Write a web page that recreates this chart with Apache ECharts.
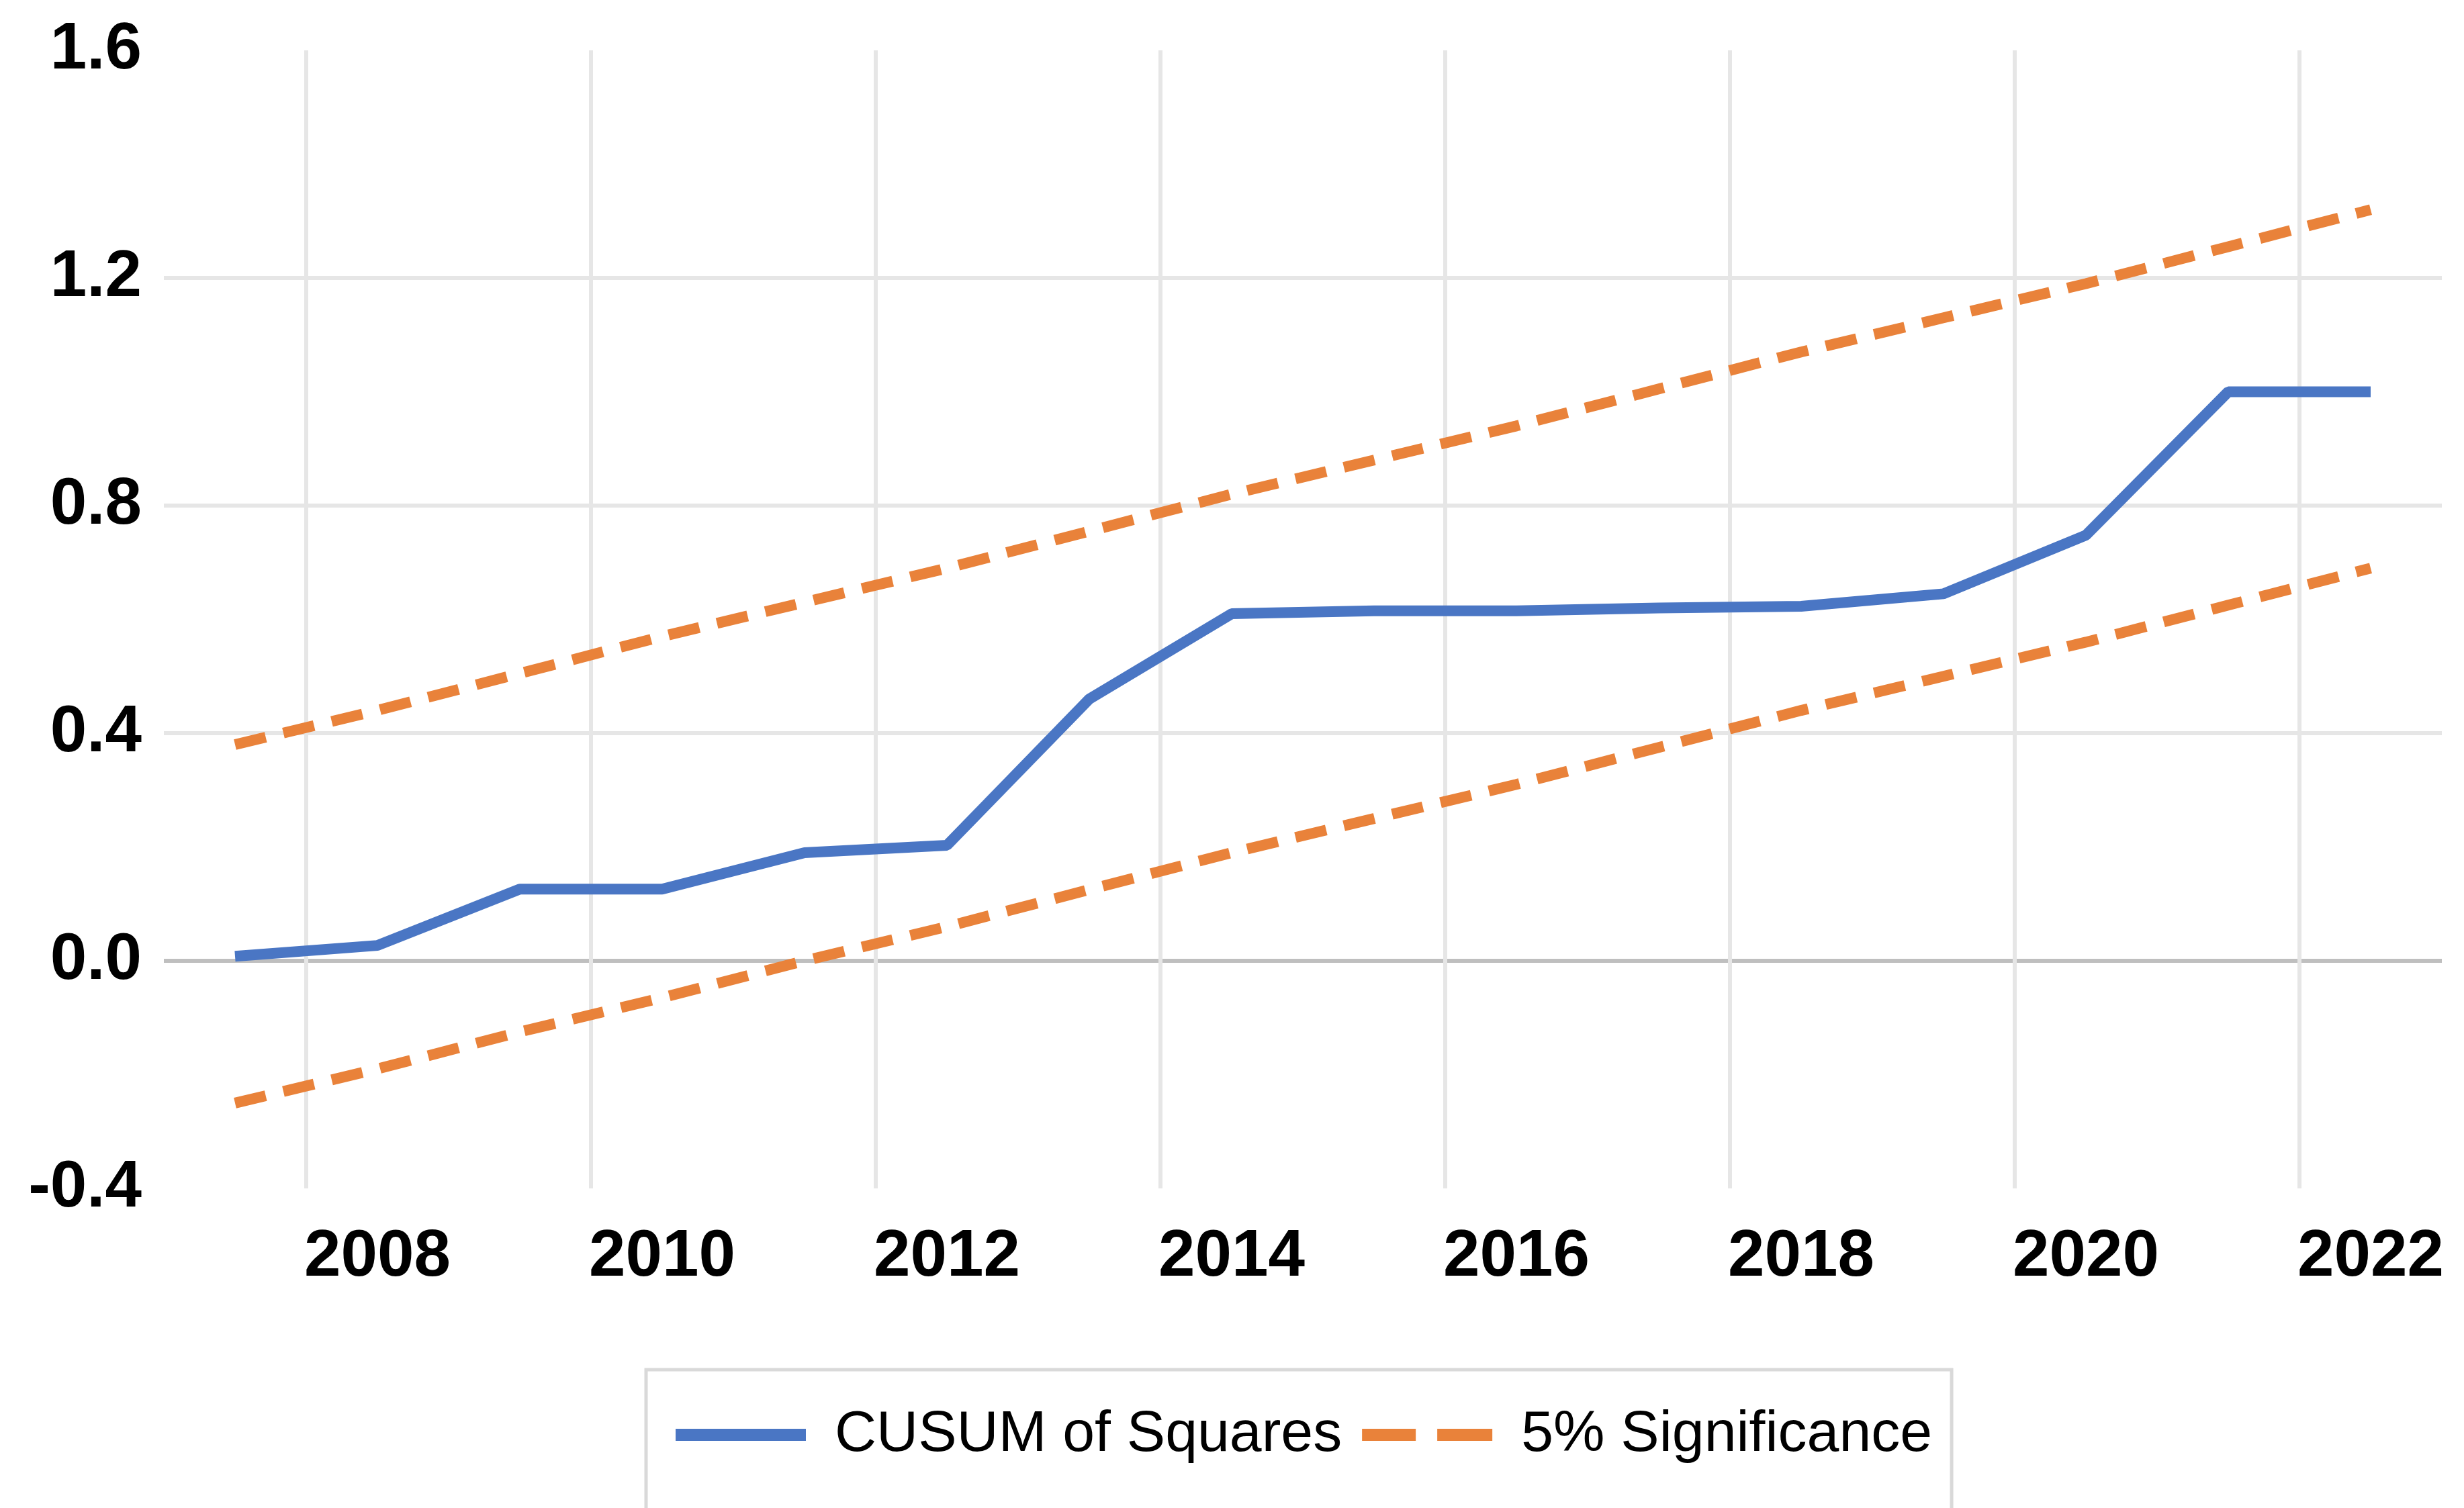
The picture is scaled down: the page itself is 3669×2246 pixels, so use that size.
<!DOCTYPE html>
<html>
<head>
<meta charset="utf-8">
<script src="https://cdn.jsdelivr.net/npm/echarts@6.0.0/dist/echarts.min.js"></script>
<style>
html,body{margin:0;padding:0;background:#fff;}
#c{width:3669px;height:2246px;}
</style>
</head>
<body>
<div id="c"></div>
<script>
// ---- data ----
const years = ['2007','2008','2009','2010','2011','2012','2013','2014','2015','2016','2017','2018','2019','2020','2021','2022'];
const cusumOfSquares = [0.008, 0.027, 0.126, 0.126, 0.19, 0.203, 0.46, 0.61, 0.615, 0.615, 0.62, 0.623, 0.645, 0.748, 1.0, 1.0];
const upperBound = [0.38, 0.44, 0.505, 0.57, 0.63, 0.69, 0.755, 0.82, 0.88, 0.94, 1.005, 1.07, 1.13, 1.19, 1.255, 1.32];
const lowerBound = [-0.25, -0.19, -0.125, -0.065, 0.0, 0.06, 0.125, 0.19, 0.25, 0.31, 0.375, 0.44, 0.50, 0.56, 0.625, 0.69];
const yMin = -0.4, yMax = 1.6, yStep = 0.4;
const seriesNames = ['CUSUM of Squares', '5% Significance'];

const blue = '#4a76c4';
const orange = '#e9823a';
const grid = '#e6e6e6';

const chart = echarts.init(document.getElementById('c'), null, {renderer: 'canvas', width: 3669, height: 2246});

const axisFont = {fontFamily: 'Liberation Sans, Arial, sans-serif', fontWeight: 'bold', fontSize: 98, color: '#000'};

const option = {
  animation: false,
  backgroundColor: '#ffffff',
  grid: {left: 244, right: 33, top: 75, bottom: 476, containLabel: false},
  xAxis: {
    type: 'category',
    data: years,
    boundaryGap: true,
    axisLine: {show: false},
    axisTick: {show: false, interval: (i) => i % 2 === 1},
    axisLabel: Object.assign({interval: (i) => i % 2 === 1, margin: 54}, axisFont),
    splitLine: {
      show: true,
      interval: (i) => i % 2 === 1,
      showMaxLine: false,
      lineStyle: {color: grid, width: 6}
    }
  },
  yAxis: {
    type: 'value',
    min: yMin,
    max: yMax,
    interval: yStep,
    axisLine: {show: false},
    axisTick: {show: false},
    axisLabel: Object.assign({margin: 33, formatter: (v) => v.toFixed(1)}, axisFont),
    splitLine: {
      show: true,
      lineStyle: {color: ['rgba(0,0,0,0)', '#bfbfbf', grid, grid, grid, 'rgba(0,0,0,0)'], width: 6}
    }
  },
  legend: {
    left: 962,
    top: 2040,
    orient: 'horizontal',
    padding: [54, 29, 200, 44],
    borderColor: '#d9d9d9',
    borderWidth: 5,
    itemWidth: 194,
    itemHeight: 18,
    itemGap: 30,
    textStyle: {fontFamily: 'Liberation Sans, Arial, sans-serif', fontSize: 86, color: '#000', padding: [0, 0, 0, 38]},
    data: [
      {name: seriesNames[0], icon: 'rect', itemStyle: {color: blue}},
      {name: seriesNames[1], icon: 'path://M0,0H80V18H0Z M112,0H194V18H112Z', itemStyle: {color: orange}}
    ]
  },
  series: [
    {
      name: seriesNames[0],
      type: 'line',
      data: cusumOfSquares,
      symbol: 'none',
      lineStyle: {color: blue, width: 16},
      itemStyle: {color: blue},
      z: 3
    },
    {
      name: seriesNames[1],
      type: 'line',
      data: upperBound,
      symbol: 'none',
      lineStyle: {color: orange, width: 16, type: [47, 27]},
      itemStyle: {color: orange},
      z: 2
    },
    {
      name: seriesNames[1],
      type: 'line',
      data: lowerBound,
      symbol: 'none',
      lineStyle: {color: orange, width: 16, type: [47, 27]},
      itemStyle: {color: orange},
      z: 2
    }
  ]
};
chart.setOption(option);
</script>
</body>
</html>
